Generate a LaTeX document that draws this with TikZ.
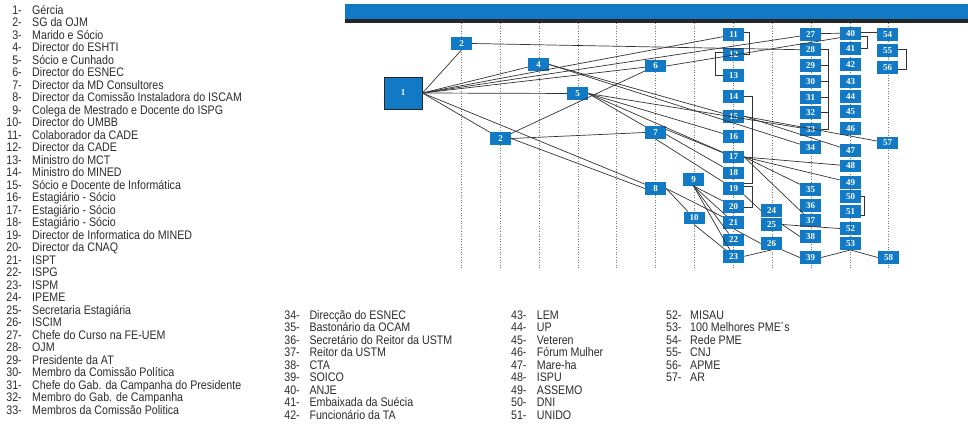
\documentclass[tikz,border=0pt]{standalone}
\usepackage{fontspec}
\setmainfont{Liberation Sans}[FakeStretch=0.86]
\newfontfamily\boxfont{Liberation Serif}
\definecolor{nodeblue}{RGB}{18,121,197}
\definecolor{legtext}{RGB}{45,45,45}
\begin{document}
\begin{tikzpicture}[x=1pt,y=-1pt,
  bx/.style={fill=nodeblue,text=white,minimum width=21pt,minimum height=12.5pt,inner sep=0pt,font=\boxfont\fontsize{9}{9}\selectfont\bfseries},
  ln/.style={draw=black!80,line width=0.7pt},
  gridln/.style={draw=black!55,dotted,line width=0.6pt},
  lgnum/.style={anchor=base east,inner sep=0pt,text=legtext,font=\fontsize{12.4}{12}\selectfont},
  lgtxt/.style={anchor=base west,inner sep=0pt,text=legtext,font=\fontsize{12.4}{12}\selectfont}]
\useasboundingbox (0,0) rectangle (968,426);
% top bar
\fill[nodeblue] (345,4) rectangle (968,19);
\fill[black!85] (345,19) rectangle (968,22.5);
% dotted grid
\foreach \x in {461,500,539,578,616,655,694,733,772,811,850,888}
  \draw[gridln] (\x,23) -- (\x,270);
% nodes
\node[bx,minimum width=38pt,minimum height=32pt,draw=black!85,line width=1pt] (n1) at (403,93) {1};
\node[bx] (n2a) at (461.5,43.5) {2};
\node[bx] (n2b) at (500.5,138.5) {2};
\node[bx] (n4) at (538.5,64.5) {4};
\node[bx] (n5) at (577.5,93.5) {5};
\node[bx] (n6) at (655.5,66) {6};
\node[bx] (n7) at (655.5,132.5) {7};
\node[bx] (n8) at (655.5,188.5) {8};
\node[bx] (n9) at (693.5,179.5) {9};
\node[bx] (n10) at (694,218) {10};
\node[bx] (n11) at (733.5,34.7) {11};
\node[bx] (n12) at (733.5,54.3) {12};
\node[bx] (n13) at (733.5,75.7) {13};
\node[bx] (n14) at (733.5,96.5) {14};
\node[bx] (n15) at (733.5,116.3) {15};
\node[bx] (n16) at (733.5,136.6) {16};
\node[bx] (n17) at (733.5,157) {17};
\node[bx] (n18) at (733.5,173) {18};
\node[bx] (n19) at (733.5,188.5) {19};
\node[bx] (n20) at (733.5,206.5) {20};
\node[bx] (n21) at (733.5,222.3) {21};
\node[bx] (n22) at (733.5,240) {22};
\node[bx] (n23) at (733.5,256.3) {23};
\node[bx] (n24) at (771.5,210.5) {24};
\node[bx] (n25) at (771.5,224.5) {25};
\node[bx] (n26) at (771.5,243.5) {26};
\node[bx] (n27) at (810.5,34.5) {27};
\node[bx] (n28) at (810.5,49.7) {28};
\node[bx] (n29) at (810.5,65.5) {29};
\node[bx] (n30) at (810.5,81.7) {30};
\node[bx] (n31) at (810.5,97.3) {31};
\node[bx] (n32) at (810.5,112.3) {32};
\node[bx] (n33) at (810.5,129.5) {33};
\node[bx] (n34) at (810.5,147.5) {34};
\node[bx] (n35) at (810.5,189.5) {35};
\node[bx] (n36) at (810.5,205.5) {36};
\node[bx] (n37) at (810.5,220.5) {37};
\node[bx] (n38) at (810.5,236.5) {38};
\node[bx] (n39) at (810.5,257.5) {39};
\node[bx] (n40) at (850.5,33.7) {40};
\node[bx] (n41) at (850.5,48.7) {41};
\node[bx] (n42) at (850.5,64.3) {42};
\node[bx] (n43) at (850.5,81.5) {43};
\node[bx] (n44) at (850.5,96.3) {44};
\node[bx] (n45) at (850.5,111.3) {45};
\node[bx] (n46) at (850.5,128.3) {46};
\node[bx] (n47) at (850.5,150.5) {47};
\node[bx] (n48) at (850.5,166) {48};
\node[bx] (n49) at (850.5,182.5) {49};
\node[bx] (n50) at (850.5,196.5) {50};
\node[bx] (n51) at (850.5,211.5) {51};
\node[bx] (n52) at (850.5,228.5) {52};
\node[bx] (n53) at (850.5,243.5) {53};
\node[bx] (n54) at (887.5,34.5) {54};
\node[bx] (n55) at (887.5,50.7) {55};
\node[bx] (n56) at (887.5,67.5) {56};
\node[bx] (n57) at (887.5,143) {57};
\node[bx] (n58) at (888.5,257.5) {58};
% edges from 1
\draw[ln] (n1.east) -- (n2a.south);
\foreach \t in {n4,n11,n27,n6,n5,n2b,n8} \draw[ln] (n1.east) -- (\t);
\draw[ln] (n2a.east) -- (n28.west);
\draw[ln] (n2b) -- (n6);
\draw[ln] (n2b.east) -- (n7.west);
\draw[ln] (n2b.east) -- (n8.west);
\draw[ln] (n6.east) -- ([yshift=-4pt]n40.west);
\draw[ln] (n4.east) -- (n15);
\draw[ln] (n4.east) -- (n34);
\foreach \t in {n7,n16,n17,n33} \draw[ln] (n5.east) -- (\t);
\draw[ln] ([yshift=3pt]n7.east) -- (n17);
\draw[ln] ([yshift=-2pt]n7.east) -- (n18);
\draw[ln] (n7.south) -- (n19);
\draw[ln] (n8.east) -- (n10);
\draw[ln] (n8.east) -- (n21);
\foreach \t in {n20,n21,n22,n23} \draw[ln] (n9.south) -- (\t);
\draw[ln] (n10.south) -- (n23);
\draw[ln] (n15.east) -- (n47);
\draw[ln] (n15.east) -- (n57);
\foreach \t in {n48,n49,n35,n37} \draw[ln] (n17.east) -- (\t);
\draw[ln] (n19.south east) -- (n24.west);
\draw[ln] (n21.south) -- (n26.west);
\draw[ln] (n23.east) -- (n26.south);
\draw[ln] (n26.south east) -- (n39.west);
\draw[ln] (n39.east) -- (n53.south);
\draw[ln] (n53.south) -- (n58.west);
\draw[ln] (n25.east) -- (n38.west);
\draw[ln] (n25.east) -- (n52.west);
\draw[ln] ([yshift=1pt]n27.east) -- ([yshift=0.4pt]n40.west);
\draw[ln] ([yshift=1.4pt]n40.east) -- ([yshift=2.2pt]n54.west);
% brackets
\draw[ln] ([yshift=2.4pt]n11.east) -- ++(5.5,0) |- (n12.east);
\draw[ln] ([yshift=2pt]n12.west) -- ++(-7,0) |- (n13.west);
\draw[ln] (n14.east) -- ++(8.5,0) |- ([yshift=5pt]n19.east);
\draw[ln] ([yshift=2.5pt]n19.east) -- ++(8.5,0) |- ([yshift=-1.2pt]n20.east);
\draw[ln] (n28.east) -- ++(7.5,0) |- (n33.east);
\foreach \t in {n29,n30,n31,n32} \draw[ln] (\t.east) -- ++(7.5,0);
\draw[ln] ([yshift=-2.5pt]n40.east) -- ++(6.5,0) |- (n41.east);
\draw[ln] ([yshift=1.7pt]n55.east) -- ++(8,0) |- ([yshift=-1.5pt]n56.east);
\draw[ln] (n50.east) -- ++(3.5,0) |- ([yshift=-4pt]n51.east);
% legend column 1
\foreach \t [count=\i] in {Gércia,SG da OJM,Marido e Sócio,Director do ESHTI,Sócio e Cunhado,Director do ESNEC,Director da MD Consultores,Director da Comissão Instaladora do ISCAM,Colega de Mestrado e Docente do ISPG,Director do UMBB,Colaborador da CADE,Director da CADE,Ministro do MCT,Ministro do MINED,Sócio e Docente de Informática,Estagiário - Sócio,Estagiário - Sócio,Estagiário - Sócio,Director de Informatica do MINED,Director da CNAQ,ISPT,ISPG,ISPM,IPEME,Secretaria Estagiária,ISCIM,Chefe do Curso na FE-UEM,OJM,Presidente da AT,Membro da Comissão Política,Chefe do Gab. da Campanha do Presidente,Membro do Gab. de Campanha,Membros da Comissão Politica}{
  \node[lgnum] (ln\i) at (22,{14+(\i-1)*12.5}) {\i-};
  \node[lgtxt] (lt\i) at (32,{14+(\i-1)*12.5}) {\t};
}
% legend column 2
\foreach \t [count=\k from 34] in {Direcção do ESNEC,Bastonário da OCAM,Secretário do Reitor da USTM,Reitor da USTM,CTA,SOICO,ANJE,Embaixada da Suécia,Funcionário da TA}{
  \node[lgnum] (ln\k) at (300,{319+(\k-34)*12.5}) {\k-};
  \node[lgtxt] (lt\k) at (309.3,{319+(\k-34)*12.5}) {\t};
}
% legend column 3
\foreach \t [count=\k from 43] in {LEM,UP,Veteren,Fórum Mulher,Mare-ha,ISPU,ASSEMO,DNI,UNIDO}{
  \node[lgnum] (ln\k) at (526.7,{319+(\k-43)*12.5}) {\k-};
  \node[lgtxt] (lt\k) at (536.7,{319+(\k-43)*12.5}) {\t};
}
% legend column 4
\foreach \t [count=\k from 52] in {MISAU,100 Melhores PME´s,Rede PME,CNJ,APME,AR}{
  \node[lgnum] (ln\k) at (681.7,{319+(\k-52)*12.5}) {\k-};
  \node[lgtxt] (lt\k) at (690,{319+(\k-52)*12.5}) {\t};
}
\end{tikzpicture}
\end{document}
